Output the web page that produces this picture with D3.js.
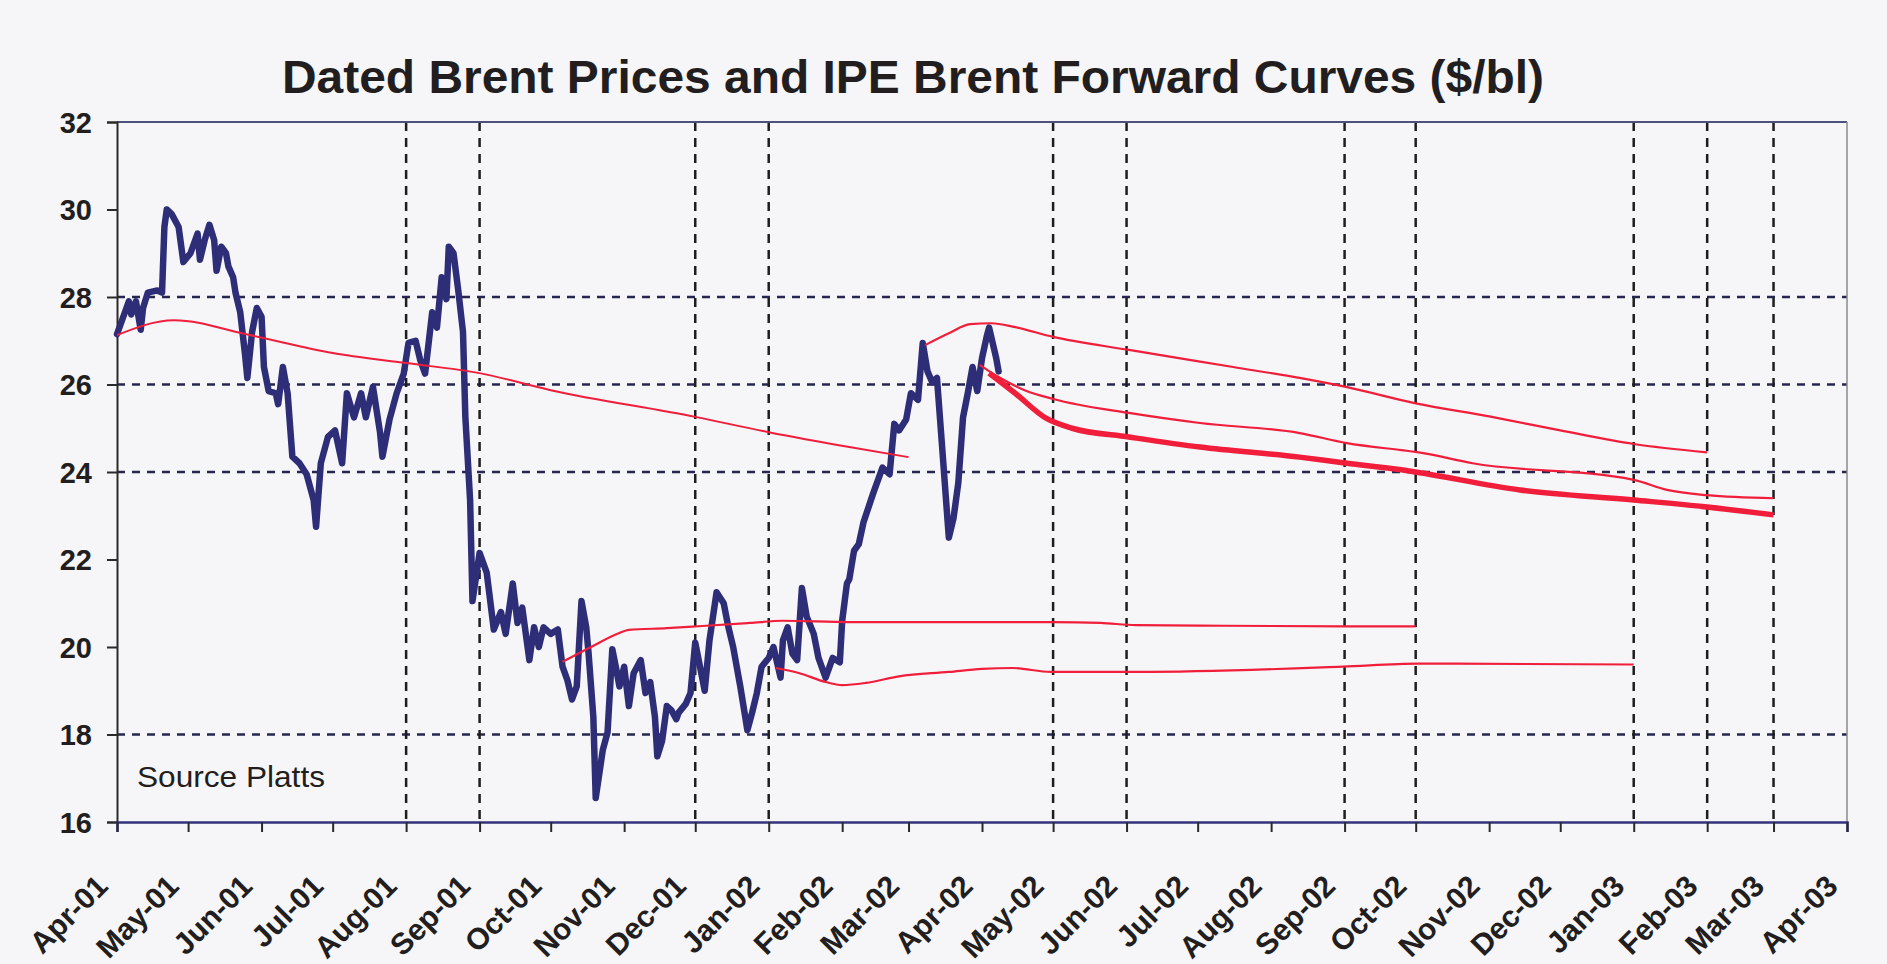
<!DOCTYPE html>
<html>
<head>
<meta charset="utf-8">
<script src="https://d3js.org/d3.v7.min.js"></script>
<style>
  body { margin: 0; background: #f6f6f9; }
  text { font-family: "Liberation Sans", Arial, sans-serif; fill: #221e20; }
</style>
</head>
<body>
<div id="chart"></div>
<script>

// ---- data ----
const blueDates = [
  "2001-04-01","2001-04-04","2001-04-06","2001-04-07","2001-04-09","2001-04-11","2001-04-12","2001-04-14","2001-04-18","2001-04-20","2001-04-21","2001-04-22","2001-04-24","2001-04-27","2001-04-29",
  "2001-05-02","2001-05-05","2001-05-06","2001-05-08","2001-05-10","2001-05-12","2001-05-13","2001-05-15","2001-05-17","2001-05-18","2001-05-20","2001-05-21","2001-05-23","2001-05-25","2001-05-26","2001-05-28","2001-05-30",
  "2001-06-01","2001-06-02","2001-06-04","2001-06-07","2001-06-08","2001-06-10","2001-06-12","2001-06-14","2001-06-17","2001-06-20","2001-06-23","2001-06-24","2001-06-26","2001-06-29",
  "2001-07-02","2001-07-05","2001-07-07","2001-07-10","2001-07-13","2001-07-15","2001-07-18","2001-07-21","2001-07-22","2001-07-25","2001-07-28","2001-07-31",
  "2001-08-02","2001-08-05","2001-08-07","2001-08-09","2001-08-12","2001-08-14","2001-08-16","2001-08-18","2001-08-19","2001-08-21","2001-08-23","2001-08-25","2001-08-26","2001-08-28","2001-08-29",
  "2001-09-01","2001-09-04","2001-09-07","2001-09-10","2001-09-12","2001-09-15","2001-09-17","2001-09-19","2001-09-22","2001-09-24","2001-09-26","2001-09-28",
  "2001-10-01","2001-10-04","2001-10-06","2001-10-08","2001-10-10","2001-10-12","2001-10-14","2001-10-16","2001-10-17","2001-10-19","2001-10-20","2001-10-23","2001-10-25","2001-10-27","2001-10-29","2001-10-30",
  "2001-11-01","2001-11-03","2001-11-05","2001-11-08","2001-11-10","2001-11-12","2001-11-14","2001-11-15","2001-11-17","2001-11-19","2001-11-21","2001-11-23","2001-11-24","2001-11-27","2001-11-29",
  "2001-12-01","2001-12-03","2001-12-05","2001-12-07","2001-12-10","2001-12-13","2001-12-15","2001-12-17","2001-12-20","2001-12-23","2001-12-25","2001-12-27","2001-12-29",
  "2002-01-01","2002-01-03","2002-01-06","2002-01-07","2002-01-09","2002-01-11","2002-01-13","2002-01-15","2002-01-17","2002-01-20","2002-01-22","2002-01-25","2002-01-28","2002-01-31",
  "2002-02-01","2002-02-03","2002-02-04","2002-02-06","2002-02-08","2002-02-10","2002-02-14","2002-02-18","2002-02-21","2002-02-23","2002-02-25","2002-02-28",
  "2002-03-02","2002-03-05","2002-03-07","2002-03-09","2002-03-11","2002-03-13","2002-03-15","2002-03-18","2002-03-20","2002-03-22","2002-03-24","2002-03-26","2002-03-28","2002-03-30",
  "2002-04-01","2002-04-03","2002-04-04","2002-04-07","2002-04-08"
];
const bluePrices = [
  27.15, 27.6, 27.9, 27.6, 27.9, 27.25, 27.75, 28.1, 28.15, 28.1, 29.6, 30.0, 29.9, 29.6, 28.8,
  29.0, 29.45, 28.85, 29.3, 29.65, 29.3, 28.6, 29.15, 29.0, 28.7, 28.45, 28.1, 27.65, 26.7, 26.15, 27.2, 27.75,
  27.55, 26.4, 25.85, 25.8, 25.55, 26.4, 25.8, 24.35, 24.2, 23.95, 23.35, 22.75, 24.2, 24.8,
  24.95, 24.2, 25.8, 25.25, 25.8, 25.25, 25.95, 24.9, 24.35, 25.2, 25.8, 26.25,
  26.95, 27.0, 26.55, 26.25, 27.65, 27.3, 28.45, 27.95, 29.15, 29.0, 28.15, 27.2, 25.25, 23.35, 21.05,
  22.15, 21.7, 20.4, 20.8, 20.3, 21.45, 20.55, 20.9, 19.7, 20.45, 20.0, 20.45,
  20.3, 20.4, 19.55, 19.25, 18.8, 19.1, 21.05, 20.45, 19.85, 18.4, 16.55, 17.65, 18.05, 19.95, 19.4, 19.1,
  19.55, 18.65, 19.4, 19.7, 18.95, 19.2, 18.4, 17.5, 17.85, 18.65, 18.55, 18.35, 18.5, 18.7, 18.95,
  20.1, 19.55, 19.0, 20.15, 21.25, 21.0, 20.45, 20.0, 19.1, 18.1, 18.5, 18.95, 19.55,
  19.75, 20.0, 19.3, 20.15, 20.45, 19.85, 19.7, 21.35, 20.7, 20.3, 19.75, 19.3, 19.75, 19.65,
  20.6, 21.45, 21.55, 22.2, 22.35, 22.85, 23.5, 24.1, 23.95, 25.1, 24.95, 25.2,
  25.8, 25.65, 26.95, 26.3, 26.05, 26.15, 24.7, 22.5, 22.95, 23.75, 25.25, 25.8, 26.4, 25.85,
  26.6, 27.1, 27.3, 26.6, 26.3
];

// IPE forward curves
const fwdApr01Dates  = ["2001-04-01","2001-04-25","2001-05-27","2001-07-01","2001-08-01","2001-09-01","2001-10-01","2001-12-01","2002-01-01","2002-02-04","2002-03-01"];
const fwdApr01Prices = [27.13, 27.47, 27.13, 26.72, 26.49, 26.26, 25.87, 25.26, 24.91, 24.57, 24.34];

const fwdOct01Dates  = ["2001-10-06","2001-10-18","2001-10-30","2001-11-03","2001-11-19","2001-12-04","2001-12-24","2002-01-07","2002-02-04","2002-03-18","2002-05-01","2002-05-21","2002-06-05","2002-07-02","2002-09-01","2002-10-01"];
const fwdOct01Prices = [19.66, 20.0, 20.32, 20.39, 20.43, 20.48, 20.55, 20.6, 20.57, 20.57, 20.57, 20.55, 20.5, 20.49, 20.47, 20.47];

const fwdJan02Dates  = ["2002-01-04","2002-01-14","2002-01-25","2002-02-01","2002-02-11","2002-02-25","2002-03-18","2002-04-01","2002-04-14","2002-04-30","2002-06-06","2002-08-31","2002-10-02","2003-01-01"];
const fwdJan02Prices = [19.52, 19.4, 19.2, 19.13, 19.18, 19.33, 19.43, 19.5, 19.52, 19.43, 19.43, 19.55, 19.62, 19.6];

const fwdMar02Dates  = ["2002-03-08","2002-03-18","2002-03-27","2002-04-05","2002-04-15","2002-05-01","2002-06-02","2002-07-16","2002-08-13","2002-09-02","2002-10-01","2002-11-01","2002-12-01","2003-01-01","2003-02-01"];
const fwdMar02Prices = [26.9, 27.17, 27.38, 27.4, 27.31, 27.09, 26.79, 26.4, 26.15, 25.94, 25.57, 25.27, 24.95, 24.64, 24.45];

const fwdApr02aDates  = ["2002-03-31","2002-04-08","2002-04-19","2002-05-01","2002-06-02","2002-07-02","2002-08-13","2002-09-02","2002-09-25","2002-10-01","2002-10-25","2003-01-01","2003-01-15","2003-02-01","2003-03-01"];
const fwdApr02aPrices = [26.45, 26.17, 25.87, 25.67, 25.35, 25.12, 24.89, 24.66, 24.5, 24.46, 24.2, 23.82, 23.59, 23.47, 23.4];

const fwdApr02bDates  = ["2002-04-04","2002-04-15","2002-04-28","2002-05-09","2002-06-02","2002-07-02","2002-08-13","2002-09-02","2002-09-25","2002-10-01","2002-11-14","2003-01-01","2003-02-01","2003-03-01"];
const fwdApr02bPrices = [26.26, 25.8, 25.23, 25.0, 24.8, 24.57, 24.34, 24.2, 24.05, 24.0, 23.59, 23.36, 23.2, 23.02];

const yTicks = [16, 18, 20, 22, 24, 26, 28, 30, 32];
const yGrid = [18, 24, 26, 28];
const xGridMonths = ["2001-08-01","2001-09-01","2001-12-01","2002-01-01","2002-05-01","2002-06-01","2002-09-01","2002-10-01","2003-01-01","2003-02-01","2003-03-01"];

// ---- layout ----
const W = 1887, H = 964;
const plot = {left: 117, right: 1847, top: 122, bottom: 822};
const parse = d3.timeParse("%Y-%m-%d");
const zip = (ds, vs) => ds.map((d, i) => ({date: parse(d), value: vs[i]}));

const svg = d3.select("#chart").append("svg")
  .attr("width", W).attr("height", H);

svg.append("rect").attr("width", W).attr("height", H).style("fill", "#f6f6f9");

const x = d3.scaleTime()
  .domain([parse("2001-04-01"), parse("2003-04-01")])
  .range([plot.left, plot.right]);
const y = d3.scaleLinear().domain([16, 32]).range([plot.bottom, plot.top]);

// title
svg.append("text")
  .attr("x", 913).attr("y", 93)
  .attr("text-anchor", "middle")
  .attr("textLength", 1262).attr("lengthAdjust", "spacingAndGlyphs")
  .style("font-size", "46px").style("font-weight", "bold")
  .text("Dated Brent Prices and IPE Brent Forward Curves ($/bl)");

// gridlines
svg.append("g").selectAll("line").data(yGrid).join("line")
  .attr("x1", plot.left).attr("x2", plot.right)
  .attr("y1", d => y(d)).attr("y2", d => y(d))
  .style("stroke", "#26264e").style("stroke-width", 2.5)
  .style("stroke-dasharray", "8,7");

svg.append("g").selectAll("line").data(xGridMonths.map(parse)).join("line")
  .attr("x1", d => x(d)).attr("x2", d => x(d))
  .attr("y1", plot.top).attr("y2", plot.bottom)
  .style("stroke", "#1e1e1e").style("stroke-width", 2.5)
  .style("stroke-dasharray", "9,7");

// frame
svg.append("line").attr("x1", plot.left).attr("x2", plot.right)
  .attr("y1", plot.top).attr("y2", plot.top)
  .style("stroke", "#50507e").style("stroke-width", 2);
svg.append("line").attr("x1", plot.right).attr("x2", plot.right)
  .attr("y1", plot.top).attr("y2", plot.bottom)
  .style("stroke", "#8a8a8a").style("stroke-width", 1.5);

// y axis
const yAxis = svg.append("g")
  .attr("transform", `translate(${plot.left},0)`)
  .call(d3.axisLeft(y).tickValues(yTicks).tickSize(10).tickFormat(d3.format("d")));
yAxis.select(".domain").style("stroke", "#2a2a2a").style("stroke-width", 2);
yAxis.selectAll(".tick line").style("stroke", "#2a2a2a").style("stroke-width", 2);
yAxis.selectAll(".tick text")
  .attr("x", -25).attr("dy", "0.36em")
  .style("font-size", "29px").style("font-weight", "bold")
  .style("font-family", "'Liberation Sans', Arial, sans-serif").style("fill", "#221e20");

// x axis
const months = d3.timeMonth.range(parse("2001-04-01"), parse("2003-04-02"));
const xAxis = svg.append("g")
  .attr("transform", `translate(0,${plot.bottom})`)
  .call(d3.axisBottom(x).tickValues(months).tickSize(10).tickFormat(d3.timeFormat("%b-%y")));
xAxis.select(".domain").style("stroke", "#33337e").style("stroke-width", 2.5);
xAxis.selectAll(".tick line").style("stroke", "#2a2a2a").style("stroke-width", 2);
xAxis.selectAll(".tick text")
  .attr("y", 0).attr("dy", 0)
  .attr("text-anchor", "end")
  .attr("transform", "translate(-8,66) rotate(-45)")
  .style("font-size", "30px").style("font-weight", "bold")
  .style("font-family", "'Liberation Sans', Arial, sans-serif").style("fill", "#221e20");

// source note
svg.append("text")
  .attr("x", 137).attr("y", 787)
  .attr("textLength", 188).attr("lengthAdjust", "spacingAndGlyphs")
  .style("font-size", "29px")
  .text("Source Platts");

// lines
const line = d3.line().x(d => x(d.date)).y(d => y(d.value)).curve(d3.curveMonotoneX);
const rough = d3.line().x(d => x(d.date)).y(d => y(d.value));

svg.append("path")
  .datum(zip(blueDates, bluePrices))
  .attr("d", rough)
  .style("fill", "none").style("stroke", "#2e2e78")
  .style("stroke-width", 6.5).style("stroke-linejoin", "round").style("stroke-linecap", "round");

const curves = [
  {pts: zip(fwdApr01Dates, fwdApr01Prices), w: 2},
  {pts: zip(fwdOct01Dates, fwdOct01Prices), w: 2.2},
  {pts: zip(fwdJan02Dates, fwdJan02Prices), w: 2.2},
  {pts: zip(fwdMar02Dates, fwdMar02Prices), w: 2.2},
  {pts: zip(fwdApr02aDates, fwdApr02aPrices), w: 2.2},
  {pts: zip(fwdApr02bDates, fwdApr02bPrices), w: 5.5}
];
svg.append("g").selectAll("path").data(curves).join("path")
  .attr("d", d => line(d.pts))
  .style("fill", "none").style("stroke", "#f01e3a")
  .style("stroke-width", d => d.w).style("stroke-linejoin", "round");

</script>
</body>
</html>
